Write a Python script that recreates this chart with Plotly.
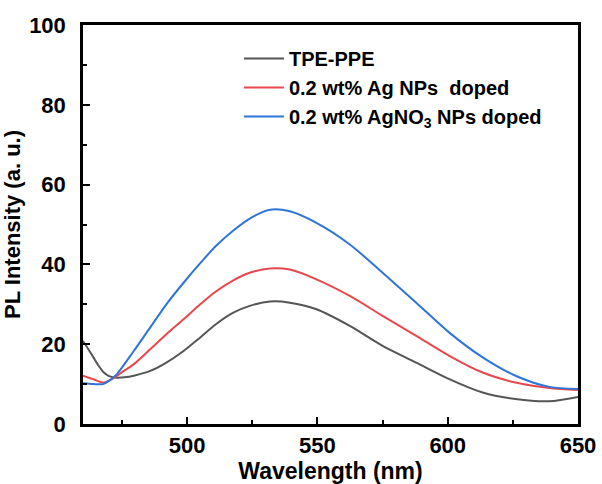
import plotly.graph_objects as go

wl_black = [460, 462, 464, 466, 468, 470, 473, 476, 479.5, 485.8, 492, 498.6, 505, 511, 517.7, 524, 531.8, 539.4, 549.6, 562.4, 575, 587.9, 600.6, 613.4, 626, 639, 650]
pl_black = [20.8, 18.8, 16.7, 14.6, 12.9, 12.0, 11.6, 11.7, 12.1, 13.3, 15.4, 18.3, 21.7, 25.0, 27.9, 29.6, 30.7, 30.4, 28.75, 24.6, 19.6, 15.4, 11.25, 7.9, 6.25, 5.7, 6.8]

wl_red = [460, 464, 468, 471.8, 475, 479.5, 485.8, 492, 498.6, 505, 511, 517.7, 524, 531.8, 539.4, 549.6, 562.4, 575, 587.9, 600.6, 613.4, 626, 639, 650]
pl_red = [12.1, 11.2, 10.4, 11.5, 13.0, 15.0, 18.75, 22.5, 26.25, 30.0, 33.2, 36.0, 37.9, 39.0, 38.7, 36.25, 32.1, 27.1, 22.1, 17.1, 12.9, 10.4, 9.0, 8.5]

wl_blue = [460, 464, 467.7, 470, 473, 479.5, 485.8, 492, 498.6, 505, 511, 517.7, 524, 531.8, 539.4, 549.6, 562.4, 575, 587.9, 600.6, 613.4, 626, 639, 650]
pl_blue = [10.2, 10.0, 10.0, 10.8, 12.5, 18.3, 24.2, 30.0, 35.4, 40.3, 44.6, 48.5, 51.5, 53.7, 53.3, 50.4, 45.0, 37.9, 30.4, 22.9, 16.7, 12.1, 9.3, 8.75]

names = ["TPE-PPE", "0.2 wt% Ag NPs  doped", "0.2 wt% AgNO<sub>3</sub> NPs doped"]
colors = ["#555555", "#e8474c", "#2f74d8"]

fig = go.Figure()
for x, y, n, c in zip([wl_black, wl_red, wl_blue], [pl_black, pl_red, pl_blue], names, colors):
    fig.add_trace(go.Scatter(x=x, y=y, name="<b>" + n + "</b>", mode="lines",
                             line=dict(color=c, width=2, shape="spline", smoothing=0.8)))

font = dict(family="Liberation Sans, Arial, sans-serif", color="black")
axis_common = dict(showline=True, linecolor="black", linewidth=2.5, mirror=True,
                   ticks="inside", ticklen=7, tickwidth=2, tickcolor="black",
                   showgrid=False, zeroline=False, automargin=False,
                   tickfont=dict(size=22, **font))

fig.update_xaxes(range=[460, 650], tick0=0, dtick=50,
                 minor=dict(ticks="inside", ticklen=4, tickwidth=2, tickcolor="black", dtick=25, tick0=0),
                 title=dict(text="<b>Wavelength (nm)</b>", font=dict(size=23, **font), standoff=7),
                 ticklabelstandoff=0,
                 tickprefix="<b>", ticksuffix="</b>", **axis_common)
fig.update_yaxes(range=[0, 100], tick0=0, dtick=20,
                 minor=dict(ticks="inside", ticklen=4, tickwidth=2, tickcolor="black", dtick=10, tick0=0),
                 title=dict(text="<b>PL Intensity (a. u.)</b>", font=dict(size=22, **font), standoff=8),
                 ticklabelstandoff=10,
                 tickprefix="<b>", ticksuffix="</b>", **axis_common)

fig.update_layout(
    width=602, height=484,
    margin=dict(l=83, r=24, t=25, b=60),
    plot_bgcolor="white", paper_bgcolor="white",
    legend=dict(x=0.315, y=0.965, xanchor="left", yanchor="top",
                font=dict(size=20, **font), bgcolor="rgba(0,0,0,0)",
                tracegroupgap=0, itemwidth=40),
    showlegend=True,
)

fig.write_html("out.html")
